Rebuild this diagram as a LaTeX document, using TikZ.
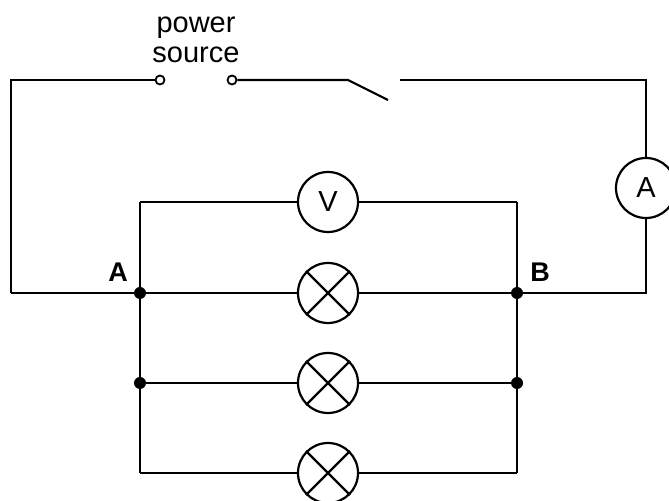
\documentclass[tikz,border=0pt]{standalone}
\usepackage{fontspec}
\setmainfont{Liberation Sans}
\usepackage{tikz}
\usetikzlibrary{calc}
\tikzset{
  wire/.style={draw=black, line width=1.1pt},
  meter/.style={circle, draw=black, line width=1.1pt, minimum size=30pt, inner sep=0pt, font=\fontsize{14.5}{16}\selectfont},
  lamp/.style={circle, draw=black, line width=1.1pt, minimum size=30pt, inner sep=0pt},
  term/.style={circle, draw=black, fill=white, line width=0.9pt, minimum size=4.5pt, inner sep=0pt},
  junc/.style={circle, fill=black, minimum size=6pt, inner sep=0pt},
  lab/.style={font=\fontsize{14.5}{15}\selectfont},
}

\begin{document}
\begin{tikzpicture}[x=0.5pt,y=-0.5pt]
  \useasboundingbox (0,0) rectangle (669,501);
  % outer loop
  \coordinate (tl) at (11,80);
  \coordinate (bl) at (11,293);
  \coordinate (tr) at (646,80);
  \coordinate (br) at (646,293);
  \node[term] (sL) at (160,80) {};
  \node[term] (sR) at (232,80) {};
  \coordinate (pivot) at (348,80);
  \coordinate (blade) at (388,100);
  \coordinate (contact) at (400,80);
  \node[meter] (amm) at (646,188) {A};

  % parallel branches
  \coordinate (A0) at (140,202);
  \coordinate (B0) at (517,202);
  \coordinate (A3) at (140,473);
  \coordinate (B3) at (517,473);
  \node[meter] (volt) at (328,202) {V};
  \node[lamp] (L1) at (328,293) {};
  \node[lamp] (L2) at (328,383) {};
  \node[lamp] (L3) at (328,473) {};

  \draw[wire] (bl) -- (tl) -- (sL);
  \draw[wire] (sR) -- (pivot) -- (blade);
  \draw[wire] (contact) -- (tr) -- (amm);
  \draw[wire] (amm) -- (br) -- (517,293);
  \draw[wire] (bl) -- (140,293);
  \draw[wire] (A0) -- (A3);
  \draw[wire] (B0) -- (B3);
  \draw[wire] (A0) -- (volt) -- (B0);
  \draw[wire] (140,293) -- (L1) -- (517,293);
  \draw[wire] (140,383) -- (L2) -- (517,383);
  \draw[wire] (A3) -- (L3) -- (B3);
  \foreach \l in {L1,L2,L3}{
    \draw[wire] (\l.45) -- (\l.225);
    \draw[wire] (\l.135) -- (\l.-45);
  }

  \node[junc] (A) at (140,293) {};
  \node[junc] (B) at (517,293) {};
  \node[junc] (A2) at (140,383) {};
  \node[junc] (B2) at (517,383) {};

  \node[lab,align=center] (src) at (196,40) {power\\source};
  \node[lab,font=\fontsize{13.5}{15}\selectfont\bfseries] (labA) at (118,272) {A};
  \node[lab,font=\fontsize{13.5}{15}\selectfont\bfseries] (labB) at (540,272) {B};
\end{tikzpicture}
\end{document}
